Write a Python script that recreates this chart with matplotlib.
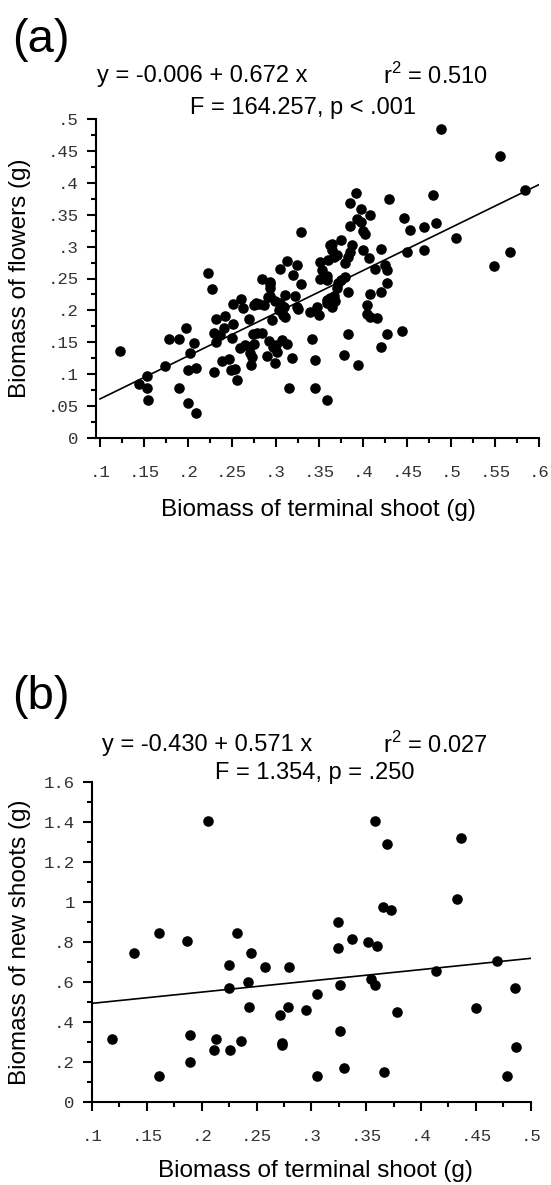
import numpy as np
import matplotlib
matplotlib.use("Agg")
import matplotlib.pyplot as plt

plt.rcParams['font.family'] = ['Liberation Sans', 'DejaVu Sans']
plt.rcParams['mathtext.fontset'] = 'custom'
plt.rcParams['mathtext.rm'] = 'Liberation Sans'

# ---- panel (a): flowers vs terminal shoot ----
shoot_a = [0.123, 0.144, 0.153, 0.153, 0.155, 0.174, 0.179, 0.190, 0.190, 0.198,
           0.207, 0.202, 0.200, 0.209, 0.200, 0.209, 0.228, 0.223, 0.230, 0.232,
           0.230, 0.232, 0.242, 0.241, 0.237, 0.239, 0.247, 0.251, 0.251, 0.250,
           0.249, 0.254, 0.256, 0.261, 0.263, 0.259, 0.265, 0.270, 0.270, 0.273,
           0.272, 0.275, 0.281, 0.274, 0.279, 0.285, 0.287, 0.291, 0.294, 0.290,
           0.296, 0.292, 0.299, 0.301, 0.302, 0.307, 0.313, 0.315, 0.319, 0.326,
           0.329, 0.275, 0.297, 0.284, 0.294, 0.294, 0.313, 0.324, 0.305, 0.320,
           0.329, 0.294, 0.311, 0.322, 0.324, 0.299, 0.305, 0.309, 0.304, 0.308,
           0.311, 0.278, 0.341, 0.345, 0.345, 0.359, 0.271,
           0.351, 0.362, 0.353, 0.351, 0.358, 0.358, 0.347, 0.339, 0.349,
           0.392, 0.385, 0.429, 0.479, 0.397, 0.408, 0.393, 0.397, 0.385, 0.400,
           0.402, 0.446, 0.453, 0.469, 0.483, 0.506, 0.375, 0.364, 0.364, 0.366,
           0.360, 0.370, 0.387, 0.385, 0.383, 0.379, 0.399, 0.420, 0.406, 0.450,
           0.469, 0.413, 0.425, 0.427, 0.358, 0.379, 0.375, 0.371, 0.370, 0.366,
           0.362, 0.368, 0.358, 0.364, 0.383, 0.427, 0.420, 0.408, 0.404, 0.404,
           0.408, 0.415, 0.383, 0.427, 0.444, 0.420, 0.378, 0.394,
           0.488, 0.556, 0.584, 0.567, 0.549]
flowers = [0.136, 0.085, 0.097, 0.078, 0.059, 0.113, 0.155, 0.155, 0.078, 0.172,
           0.149, 0.134, 0.107, 0.110, 0.055, 0.039, 0.233, 0.259, 0.104, 0.187,
           0.164, 0.151, 0.191, 0.172, 0.161, 0.121, 0.124, 0.210, 0.178, 0.156,
           0.107, 0.108, 0.091, 0.218, 0.203, 0.141, 0.146, 0.187, 0.143, 0.127,
           0.114, 0.209, 0.210, 0.163, 0.164, 0.164, 0.209, 0.221, 0.241, 0.129,
           0.185, 0.152, 0.118, 0.146, 0.135, 0.154, 0.148, 0.078, 0.126, 0.202,
           0.241, 0.148, 0.143, 0.249, 0.244, 0.235, 0.278, 0.271, 0.265, 0.256,
           0.323, 0.222, 0.224, 0.223, 0.206, 0.214, 0.211, 0.206, 0.200, 0.193,
           0.190, 0.211, 0.155, 0.123, 0.078, 0.059, 0.133,
           0.276, 0.302, 0.263, 0.250, 0.248, 0.216, 0.206, 0.198, 0.193,
           0.384, 0.368, 0.374, 0.381, 0.359, 0.350, 0.344, 0.338, 0.332, 0.325,
           0.320, 0.345, 0.326, 0.330, 0.337, 0.313, 0.310, 0.304, 0.295, 0.284,
           0.279, 0.287, 0.303, 0.292, 0.283, 0.275, 0.295, 0.297, 0.282, 0.292,
           0.295, 0.265, 0.271, 0.263, 0.254, 0.253, 0.248, 0.243, 0.235, 0.222,
           0.219, 0.214, 0.211, 0.206, 0.229, 0.243, 0.229, 0.226, 0.209, 0.195,
           0.190, 0.188, 0.163, 0.163, 0.168, 0.143, 0.130, 0.114,
           0.484, 0.442, 0.388, 0.291, 0.269]
fit_a = (-0.006, 0.672)

# ---- panel (b): new shoots vs terminal shoot ----
shoot_b = [0.206, 0.161, 0.187, 0.232, 0.138, 0.245, 0.358, 0.369, 0.436, 0.433,
           0.365, 0.373, 0.324, 0.337, 0.352, 0.360, 0.324, 0.225, 0.258, 0.280,
           0.242, 0.225, 0.243, 0.271, 0.279, 0.295, 0.118, 0.189, 0.213, 0.211,
           0.226, 0.236, 0.273, 0.273, 0.189, 0.161, 0.469, 0.414, 0.354, 0.358,
           0.326, 0.305, 0.486, 0.378, 0.450, 0.326, 0.487, 0.305, 0.330, 0.366,
           0.478]
new_shoots = [1.405, 0.847, 0.807, 0.847, 0.745, 0.745, 1.405, 1.290, 1.320, 1.013,
              0.975, 0.960, 0.900, 0.817, 0.800, 0.780, 0.770, 0.683, 0.675, 0.675,
              0.600, 0.570, 0.477, 0.437, 0.477, 0.458, 0.315, 0.335, 0.313, 0.262,
              0.262, 0.305, 0.293, 0.283, 0.200, 0.128, 0.707, 0.655, 0.615, 0.583,
              0.583, 0.540, 0.572, 0.448, 0.468, 0.355, 0.273, 0.130, 0.170, 0.150,
              0.130]
fit_b = (0.437, 0.5625)   # line as drawn in the figure

xt_a = [0.1, 0.15, 0.2, 0.25, 0.3, 0.35, 0.4, 0.45, 0.5, 0.55, 0.6]
xl_a = ['.1', '.15', '.2', '.25', '.3', '.35', '.4', '.45', '.5', '.55', '.6']
yt_a = [0, 0.05, 0.1, 0.15, 0.2, 0.25, 0.3, 0.35, 0.4, 0.45, 0.5]
yl_a = ['0', '.05', '.1', '.15', '.2', '.25', '.3', '.35', '.4', '.45', '.5']
xt_b = [0.1, 0.15, 0.2, 0.25, 0.3, 0.35, 0.4, 0.45, 0.5]
xl_b = ['.1', '.15', '.2', '.25', '.3', '.35', '.4', '.45', '.5']
yt_b = [0, 0.2, 0.4, 0.6, 0.8, 1.0, 1.2, 1.4, 1.6]
yl_b = ['0', '.2', '.4', '.6', '.8', '1', '1.2', '1.4', '1.6']

W, H = 551, 1185
fig = plt.figure(figsize=(W / 100, H / 100), dpi=100)


def px(x, y):
    return x / W, 1 - y / H


def style_axes(ax, xt, xl, yt, yl, xmin_t, ymin_t):
    for s in ['top', 'right']:
        ax.spines[s].set_visible(False)
    for s in ['left', 'bottom']:
        ax.spines[s].set_linewidth(1.5)
    ax.set_xticks(xt)
    ax.set_xticklabels(xl)
    ax.set_yticks(yt)
    ax.set_yticklabels(yl)
    ax.set_xticks(xmin_t, minor=True)
    ax.set_yticks(ymin_t, minor=True)
    ax.tick_params(which='major', direction='out', length=6.5, width=1.5,
                   labelsize=12.5, labelcolor='#333333')
    ax.tick_params(which='minor', direction='out', length=3.8, width=1.5)
    ax.tick_params(axis='x', which='major', pad=13)
    ax.tick_params(axis='y', which='major', pad=6)
    for lab in ax.get_xticklabels() + ax.get_yticklabels():
        lab.set_family('Liberation Mono')


def axis_labels(ax, xlab, ylab, xlab_pos, ylab_pos):
    ax.set_xlabel(xlab, fontsize=17.5, va='center')
    ax.set_ylabel(ylab, fontsize=17.5, va='center')
    ax.xaxis.set_label_coords(*px(*xlab_pos), transform=fig.transFigure)
    ax.yaxis.set_label_coords(*px(*ylab_pos), transform=fig.transFigure)


# panel (a)
l, b = px(96, 438)
r, t = px(539, 119)
ax1 = fig.add_axes([l, b, r - l, t - b])
ax1.scatter(shoot_a, flowers, s=58, color='black', zorder=3, linewidths=0)
xx = np.array([0.1, 0.6])
ax1.plot(xx, fit_a[0] + fit_a[1] * xx, color='black', lw=1.2, zorder=2)
ax1.set_xlim(0.1 - 4 / 878, 0.6)
ax1.set_ylim(0, 0.5)
style_axes(ax1, xt_a, xl_a, yt_a, yl_a,
           np.arange(0.125, 0.6, 0.05), np.arange(0.025, 0.5, 0.05))
axis_labels(ax1, 'Biomass of terminal shoot (g)', 'Biomass of flowers (g)',
            (318, 510), (20, 278))

# panel (b)
l, b = px(92, 1102)
r, t = px(530.7, 782)
ax2 = fig.add_axes([l, b, r - l, t - b])
ax2.scatter(shoot_b, new_shoots, s=58, color='black', zorder=3, linewidths=0)
xx = np.array([0.1, 0.5])
ax2.plot(xx, fit_b[0] + fit_b[1] * xx, color='black', lw=1.2, zorder=2)
ax2.set_xlim(0.1, 0.5)
ax2.set_ylim(0, 1.6)
style_axes(ax2, xt_b, xl_b, yt_b, yl_b,
           np.arange(0.125, 0.5, 0.05), np.arange(0.1, 1.6, 0.2))
axis_labels(ax2, 'Biomass of terminal shoot (g)', 'Biomass of new shoots (g)',
            (315, 1171), (20, 942))

# panel labels and statistics
fig.text(*px(12, 40), '(a)', fontsize=34, va='center', ha='left')
fig.text(*px(97, 76), 'y = -0.006 + 0.672 x', fontsize=17, va='center', ha='left')
fig.text(*px(488, 76), 'r$^{2}$ = 0.510', fontsize=17, va='center', ha='right')
fig.text(*px(303, 108), 'F = 164.257, p < .001', fontsize=17, va='center', ha='center')

fig.text(*px(12, 697), '(b)', fontsize=34, va='center', ha='left')
fig.text(*px(102, 745), 'y = -0.430 + 0.571 x', fontsize=17, va='center', ha='left')
fig.text(*px(488, 745), 'r$^{2}$ = 0.027', fontsize=17, va='center', ha='right')
fig.text(*px(315, 773), 'F = 1.354, p = .250', fontsize=17, va='center', ha='center')

fig.savefig('out.png', dpi=100)
